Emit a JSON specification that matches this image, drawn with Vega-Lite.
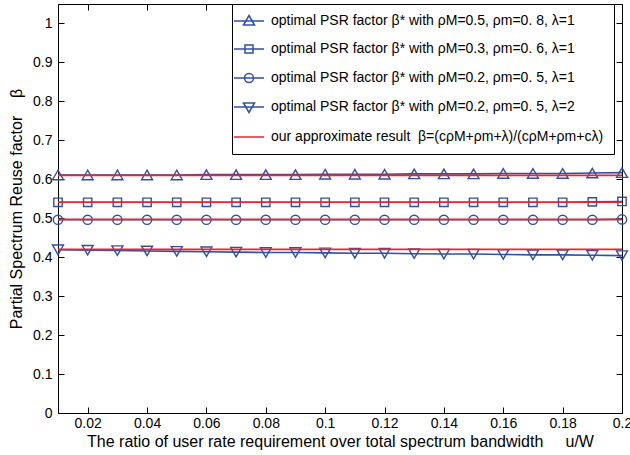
{
  "$schema": "https://vega.github.io/schema/vega-lite/v6.json",
  "width": 564,
  "height": 409,
  "autosize": {"type": "none"},
  "padding": {"left": 58, "top": 4, "right": 8, "bottom": 42},
  "config": {
    "view": {"stroke": "black", "strokeWidth": 1},
    "font": "Liberation Sans",
    "axis": {
      "domainColor": "black", "labelColor": "black", "titleColor": "black", "tickColor": "black",
      "labelFont": "Liberation Sans", "titleFont": "Liberation Sans",
      "labelFontSize": 14, "titleFontSize": 16, "titleFontWeight": "normal",
      "grid": false, "zindex": 1
    },
    "legend": {
      "labelFont": "Liberation Sans", "labelFontSize": 14, "labelColor": "black", "labelLimit": 500
    }
  },
  "data": {"values": [
    {"x":0.01,"y":0.611,"s":"T","k":"T"},{"x":0.02,"y":0.611,"s":"T","k":"T"},{"x":0.03,"y":0.611,"s":"T","k":"T"},{"x":0.04,"y":0.611,"s":"T","k":"T"},{"x":0.05,"y":0.611,"s":"T","k":"T"},{"x":0.06,"y":0.612,"s":"T","k":"T"},{"x":0.07,"y":0.612,"s":"T","k":"T"},{"x":0.08,"y":0.612,"s":"T","k":"T"},{"x":0.09,"y":0.612,"s":"T","k":"T"},{"x":0.10,"y":0.613,"s":"T","k":"T"},{"x":0.11,"y":0.613,"s":"T","k":"T"},{"x":0.12,"y":0.613,"s":"T","k":"T"},{"x":0.13,"y":0.614,"s":"T","k":"T"},{"x":0.14,"y":0.614,"s":"T","k":"T"},{"x":0.15,"y":0.614,"s":"T","k":"T"},{"x":0.16,"y":0.615,"s":"T","k":"T"},{"x":0.17,"y":0.615,"s":"T","k":"T"},{"x":0.18,"y":0.615,"s":"T","k":"T"},{"x":0.19,"y":0.616,"s":"T","k":"T"},{"x":0.20,"y":0.617,"s":"T","k":"T"},
    {"x":0.01,"y":0.541,"s":"S","k":"S"},{"x":0.02,"y":0.541,"s":"S","k":"S"},{"x":0.03,"y":0.541,"s":"S","k":"S"},{"x":0.04,"y":0.541,"s":"S","k":"S"},{"x":0.05,"y":0.541,"s":"S","k":"S"},{"x":0.06,"y":0.541,"s":"S","k":"S"},{"x":0.07,"y":0.541,"s":"S","k":"S"},{"x":0.08,"y":0.541,"s":"S","k":"S"},{"x":0.09,"y":0.541,"s":"S","k":"S"},{"x":0.10,"y":0.541,"s":"S","k":"S"},{"x":0.11,"y":0.541,"s":"S","k":"S"},{"x":0.12,"y":0.541,"s":"S","k":"S"},{"x":0.13,"y":0.541,"s":"S","k":"S"},{"x":0.14,"y":0.541,"s":"S","k":"S"},{"x":0.15,"y":0.541,"s":"S","k":"S"},{"x":0.16,"y":0.541,"s":"S","k":"S"},{"x":0.17,"y":0.541,"s":"S","k":"S"},{"x":0.18,"y":0.541,"s":"S","k":"S"},{"x":0.19,"y":0.542,"s":"S","k":"S"},{"x":0.20,"y":0.543,"s":"S","k":"S"},
    {"x":0.01,"y":0.496,"s":"C","k":"C"},{"x":0.02,"y":0.496,"s":"C","k":"C"},{"x":0.03,"y":0.496,"s":"C","k":"C"},{"x":0.04,"y":0.496,"s":"C","k":"C"},{"x":0.05,"y":0.496,"s":"C","k":"C"},{"x":0.06,"y":0.496,"s":"C","k":"C"},{"x":0.07,"y":0.496,"s":"C","k":"C"},{"x":0.08,"y":0.496,"s":"C","k":"C"},{"x":0.09,"y":0.496,"s":"C","k":"C"},{"x":0.10,"y":0.496,"s":"C","k":"C"},{"x":0.11,"y":0.496,"s":"C","k":"C"},{"x":0.12,"y":0.496,"s":"C","k":"C"},{"x":0.13,"y":0.496,"s":"C","k":"C"},{"x":0.14,"y":0.496,"s":"C","k":"C"},{"x":0.15,"y":0.496,"s":"C","k":"C"},{"x":0.16,"y":0.496,"s":"C","k":"C"},{"x":0.17,"y":0.496,"s":"C","k":"C"},{"x":0.18,"y":0.496,"s":"C","k":"C"},{"x":0.19,"y":0.496,"s":"C","k":"C"},{"x":0.20,"y":0.497,"s":"C","k":"C"},
    {"x":0.01,"y":0.419,"s":"D","k":"D"},{"x":0.02,"y":0.418,"s":"D","k":"D"},{"x":0.03,"y":0.417,"s":"D","k":"D"},{"x":0.04,"y":0.416,"s":"D","k":"D"},{"x":0.05,"y":0.415,"s":"D","k":"D"},{"x":0.06,"y":0.414,"s":"D","k":"D"},{"x":0.07,"y":0.413,"s":"D","k":"D"},{"x":0.08,"y":0.412,"s":"D","k":"D"},{"x":0.09,"y":0.412,"s":"D","k":"D"},{"x":0.10,"y":0.411,"s":"D","k":"D"},{"x":0.11,"y":0.410,"s":"D","k":"D"},{"x":0.12,"y":0.410,"s":"D","k":"D"},{"x":0.13,"y":0.409,"s":"D","k":"D"},{"x":0.14,"y":0.408,"s":"D","k":"D"},{"x":0.15,"y":0.408,"s":"D","k":"D"},{"x":0.16,"y":0.407,"s":"D","k":"D"},{"x":0.17,"y":0.406,"s":"D","k":"D"},{"x":0.18,"y":0.406,"s":"D","k":"D"},{"x":0.19,"y":0.405,"s":"D","k":"D"},{"x":0.20,"y":0.404,"s":"D","k":"D"},
    {"x":0.01,"y":0.610,"s":"R","k":"R1"},{"x":0.20,"y":0.610,"s":"R","k":"R1"},
    {"x":0.01,"y":0.541,"s":"R","k":"R2"},{"x":0.20,"y":0.541,"s":"R","k":"R2"},
    {"x":0.01,"y":0.497,"s":"R","k":"R3"},{"x":0.20,"y":0.497,"s":"R","k":"R3"},
    {"x":0.01,"y":0.420,"s":"R","k":"R4"},{"x":0.20,"y":0.420,"s":"R","k":"R4"}
  ]},
  "resolve": {"axis": {"x": "independent", "y": "independent"}},
  "layer": [
    {"transform": [{"filter": "datum.s != 'R'"}],
     "mark": {"type": "line", "color": "#2e50a6", "strokeWidth": 1.6},
     "encoding": {
       "x": {"field": "x", "type": "quantitative",
         "scale": {"domain": [0.01, 0.2], "nice": false, "zero": false},
         "axis": {"orient": "bottom", "title": "The ratio of user rate requirement over total spectrum bandwidth\u00a0\u00a0\u00a0\u00a0\u00a0u/W",
           "values": [0.02,0.04,0.06,0.08,0.1,0.12,0.14,0.16,0.18,0.2], "format": "~g", "labelFlush": false,
           "ticks": false, "labelPadding": 3, "titlePadding": 3}},
       "y": {"field": "y", "type": "quantitative",
         "scale": {"domain": [0, 1.05], "nice": false},
         "axis": {"orient": "left", "title": "Partial Spectrum Reuse factor\u00a0\u00a0\u00a0\u00a0β",
           "values": [0,0.1,0.2,0.3,0.4,0.5,0.6,0.7,0.8,0.9,1], "format": "~g",
           "ticks": false, "labelPadding": 6, "titlePadding": 8}},
       "detail": {"field": "k"}}},
    {"transform": [{"filter": "datum.s == 'T'"}],
     "mark": {"type": "point", "shape": "triangle-up", "size": 120, "filled": false, "color": "#2e50a6", "strokeWidth": 1.4, "opacity": 1},
     "encoding": {
       "x": {"field": "x", "type": "quantitative",
         "axis": {"orient": "top", "offset": -409, "title": null, "labels": false, "domain": false, "tickSize": 6, "tickColor": "black",
           "values": [0.02,0.04,0.06,0.08,0.1,0.12,0.14,0.16,0.18,0.2]}},
       "y": {"field": "y", "type": "quantitative",
         "axis": {"orient": "right", "offset": -564, "title": null, "labels": false, "domain": false, "tickSize": 6, "tickColor": "black",
           "values": [0,0.1,0.2,0.3,0.4,0.5,0.6,0.7,0.8,0.9,1]}}}},
    {"transform": [{"filter": "datum.s == 'S'"}],
     "mark": {"type": "point", "shape": "square", "size": 70, "filled": false, "color": "#2e50a6", "strokeWidth": 1.4, "opacity": 1},
     "encoding": {
       "x": {"field": "x", "type": "quantitative",
         "axis": {"orient": "bottom", "offset": -409, "title": null, "labels": false, "domain": false, "tickSize": 6, "tickColor": "black",
           "values": [0.02,0.04,0.06,0.08,0.1,0.12,0.14,0.16,0.18,0.2]}},
       "y": {"field": "y", "type": "quantitative",
         "axis": {"orient": "left", "offset": -564, "title": null, "labels": false, "domain": false, "tickSize": 6, "tickColor": "black",
           "values": [0,0.1,0.2,0.3,0.4,0.5,0.6,0.7,0.8,0.9,1]}}}},
    {"transform": [{"filter": "datum.s == 'C'"}],
     "mark": {"type": "point", "shape": "circle", "size": 85, "filled": false, "color": "#2e50a6", "strokeWidth": 1.4, "opacity": 1},
     "encoding": {"x": {"field": "x", "type": "quantitative", "axis": null}, "y": {"field": "y", "type": "quantitative", "axis": null}}},
    {"transform": [{"filter": "datum.s == 'D'"}],
     "mark": {"type": "point", "shape": "triangle-down", "size": 120, "filled": false, "color": "#2e50a6", "strokeWidth": 1.4, "opacity": 1},
     "encoding": {"x": {"field": "x", "type": "quantitative", "axis": null}, "y": {"field": "y", "type": "quantitative", "axis": null}}},
    {"transform": [{"filter": "datum.s == 'R'"}],
     "mark": {"type": "line", "color": "#e8262b", "strokeWidth": 1.6},
     "encoding": {"x": {"field": "x", "type": "quantitative", "axis": null}, "y": {"field": "y", "type": "quantitative", "axis": null}, "detail": {"field": "k"}}},
    {"mark": {"type": "point", "filled": false, "opacity": 0},
     "encoding": {
       "x": {"field": "x", "type": "quantitative", "axis": null},
       "y": {"field": "y", "type": "quantitative", "axis": null},
       "color": {"field": "s", "type": "nominal",
         "scale": {"domain": ["T","S","C","D","R"], "range": ["#2e50a6","#2e50a6","#2e50a6","#2e50a6","#e8262b"]},
         "legend": {"title": null, "orient": "none", "legendX": 174, "legendY": 0,
           "symbolSize": 100, "symbolStrokeWidth": 1.5, "symbolOpacity": 1, "labelOffset": 15, "rowPadding": 14,
           "padding": 10, "fillColor": "white", "strokeColor": "black", "cornerRadius": 0,
           "labelExpr": "datum.label == 'T' ? 'optimal PSR factor β* with ρM=0.5, ρm=0. 8, λ=1' : datum.label == 'S' ? 'optimal PSR factor β* with ρM=0.3, ρm=0. 6, λ=1' : datum.label == 'C' ? 'optimal PSR factor β* with ρM=0.2, ρm=0. 5, λ=1' : datum.label == 'D' ? 'optimal PSR factor β* with ρM=0.2, ρm=0. 5, λ=2' : 'our approximate result\u00a0\u00a0β=(cρM+ρm+λ)/(cρM+ρm+cλ)'"}},
       "shape": {"field": "s", "type": "nominal",
         "scale": {"domain": ["T","S","C","D","R"], "range": [
           "M-3,0H3M0,-1.1L1.1,0.8H-1.1Z",
           "M-3,0H3M-0.8,-0.8H0.8V0.8H-0.8Z",
           "M-3,0H3M0.9,0A0.9,0.9,0,1,1,-0.9,0A0.9,0.9,0,1,1,0.9,0",
           "M-3,0H3M0,1.1L1.1,-0.8H-1.1Z",
           "M-3,0H3"]},
         "legend": {"title": null, "orient": "none", "legendX": 174, "legendY": 0,
           "symbolSize": 100, "symbolStrokeWidth": 1.5, "symbolOpacity": 1, "labelOffset": 15, "rowPadding": 14,
           "padding": 10, "fillColor": "white", "strokeColor": "black", "cornerRadius": 0,
           "labelExpr": "datum.label == 'T' ? 'optimal PSR factor β* with ρM=0.5, ρm=0. 8, λ=1' : datum.label == 'S' ? 'optimal PSR factor β* with ρM=0.3, ρm=0. 6, λ=1' : datum.label == 'C' ? 'optimal PSR factor β* with ρM=0.2, ρm=0. 5, λ=1' : datum.label == 'D' ? 'optimal PSR factor β* with ρM=0.2, ρm=0. 5, λ=2' : 'our approximate result\u00a0\u00a0β=(cρM+ρm+λ)/(cρM+ρm+cλ)'"}}
     }}
  ]
}
